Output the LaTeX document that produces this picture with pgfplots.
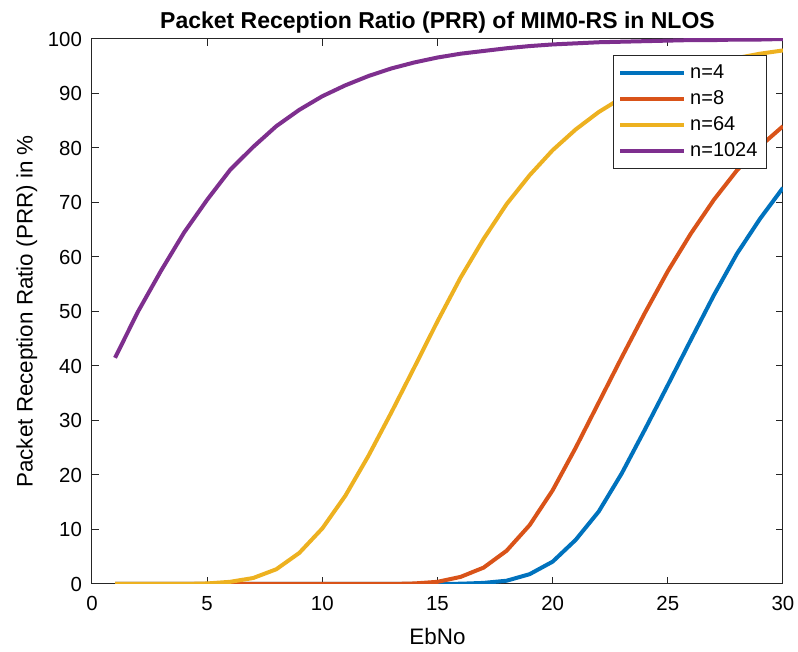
\documentclass[border=0pt]{standalone}
\usepackage{pgfplots}
\pgfplotsset{compat=1.18}
\usepackage{fontspec}
\setmainfont{Liberation Sans}
\definecolor{mblue}{rgb}{0,0.447,0.741}
\definecolor{mred}{rgb}{0.85,0.325,0.098}
\definecolor{myellow}{rgb}{0.929,0.694,0.125}
\definecolor{mpurple}{rgb}{0.494,0.184,0.556}
\definecolor{axgray}{gray}{0.15}
\begin{document}
\begin{tikzpicture}[x=1pt,y=1pt]
\begin{axis}[
  scale only axis,
  width=345.5pt, height=272.5pt,
  xmin=0, xmax=30, ymin=0, ymax=100,
  xtick={0,5,...,30}, ytick={0,10,...,100},
  tick align=inside,
  major tick length=3.5pt,
  axis line style={axgray, line width=0.5pt},
  every tick/.style={axgray, line width=0.5pt},
  tick label style={font=\fontsize{10.2}{11}\selectfont, text=black},
  yticklabel style={xshift=-1.5pt},
  xticklabel style={yshift=-2.5pt},
  /pgf/number format/assume math mode=true,
  xlabel={EbNo},
  ylabel={Packet Reception Ratio (PRR) in \%},
  label style={font=\fontsize{11.2}{13}\selectfont},
  xlabel style={yshift=-2pt},
  ylabel style={yshift=-1.5pt},
  title={\textbf{Packet Reception Ratio (PRR) of MIM0-RS in NLOS}},
  title style={font=\fontsize{11.5}{13}\selectfont, yshift=-6.5pt},
  legend style={at={(1,1)}, anchor=north east, xshift=-8pt, yshift=-8pt,
    font=\fontsize{10}{12}\selectfont, draw=axgray, line width=0.5pt,
    row sep=0.5pt, inner sep=2.5pt},
  legend cell align=left,
  legend image code/.code={\draw[#1, line width=2pt] (0pt,0pt) -- (32pt,0pt);},
  every axis plot/.append style={line width=2pt},
]
\addplot[mblue] coordinates {
(1,0) (2,0) (3,0) (4,0) (5,0) (6,0) (7,0) (8,0) (9,0) (10,0) (11,0) (12,0) (13,0) (14,0) (15,0)
(16,0.05) (17,0.2) (18,0.6) (19,1.8) (20,4.1) (21,8.1) (22,13.3) (23,20.3) (24,28.3) (25,36.5)
(26,44.8) (27,53.0) (28,60.6) (29,67.0) (30,72.7)};
\addlegendentry{n=4}
\addplot[mred] coordinates {
(1,0) (2,0) (3,0) (4,0) (5,0) (6,0) (7,0) (8,0) (9,0) (10,0) (11,0) (12,0) (13,0) (14,0.1)
(15,0.4) (16,1.3) (17,3.0) (18,6.1) (19,10.8) (20,17.2) (21,25.0) (22,33.3) (23,41.6) (24,49.7)
(25,57.4) (26,64.3) (27,70.5) (28,75.9) (29,80.3) (30,84.0)};
\addlegendentry{n=8}
\addplot[myellow] coordinates {
(1,0) (2,0) (3,0) (4,0) (5,0.1) (6,0.4) (7,1.1) (8,2.7) (9,5.7) (10,10.2) (11,16.2) (12,23.5)
(13,31.5) (14,39.8) (15,48.2) (16,56.2) (17,63.3) (18,69.7) (19,75.0) (20,79.6) (21,83.4)
(22,86.6) (23,89.2) (24,91.3) (25,93.0) (26,94.5) (27,95.6) (28,96.5) (29,97.3) (30,97.9)};
\addlegendentry{n=64}
\addplot[mpurple] coordinates {
(1,41.5) (2,50.0) (3,57.5) (4,64.5) (5,70.5) (6,76.0) (7,80.2) (8,84.0) (9,87.0) (10,89.5)
(11,91.5) (12,93.2) (13,94.6) (14,95.7) (15,96.6) (16,97.3) (17,97.8) (18,98.3) (19,98.7)
(20,99.0) (21,99.2) (22,99.4) (23,99.5) (24,99.6) (25,99.7) (26,99.8) (27,99.8) (28,99.9)
(29,99.9) (30,100)};
\addlegendentry{n=1024}
\end{axis}
\pgfresetboundingbox
\path[use as bounding box] (current axis.south west) ++(-46pt,-34pt) rectangle ([shift={(7.5pt,19.5pt)}]current axis.north east);
\end{tikzpicture}
\end{document}
